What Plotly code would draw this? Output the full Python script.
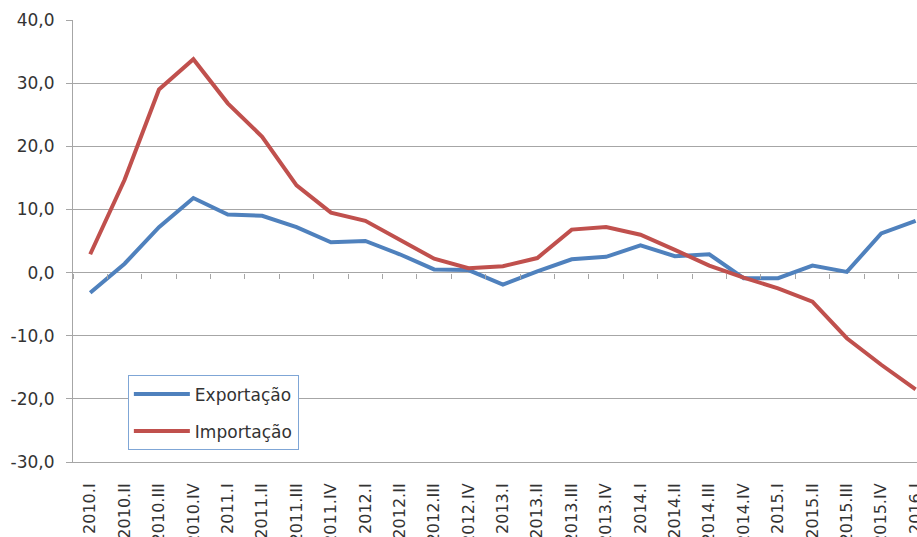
import plotly.graph_objects as go

# Quarterly growth (%), exports vs imports
quarters = [
    "2010.I", "2010.II", "2010.III", "2010.IV",
    "2011.I", "2011.II", "2011.III", "2011.IV",
    "2012.I", "2012.II", "2012.III", "2012.IV",
    "2013.I", "2013.II", "2013.III", "2013.IV",
    "2014.I", "2014.II", "2014.III", "2014.IV",
    "2015.I", "2015.II", "2015.III", "2015.IV",
    "2016.I",
]
exportacao = [
    -3.2, 1.4, 7.2, 11.8,
    9.2, 9.0, 7.2, 4.8,
    5.0, 2.9, 0.5, 0.4,
    -1.9, 0.2, 2.1, 2.5,
    4.3, 2.6, 2.9, -0.9,
    -0.9, 1.1, 0.1, 6.2,
    8.2,
]
importacao = [
    2.9, 14.7, 29.0, 33.8,
    26.8, 21.5, 13.8, 9.5,
    8.2, 5.2, 2.2, 0.7,
    1.0, 2.3, 6.8, 7.2,
    6.0, 3.6, 1.1, -0.8,
    -2.5, -4.6, -10.4, -14.6,
    -18.5,
]
y_ticks = [-30, -20, -10, 0, 10, 20, 30, 40]
y_ticktext = [f"{v:.1f}".replace(".", ",") for v in y_ticks]

BLUE = "#4F81BD"
RED = "#C0504D"
GRID = "#A6A6A6"
TEXT = "#333333"
FONT = "DejaVu Sans"

x_range = [-0.5, 24.04]

fig = go.Figure()
fig.add_trace(go.Scatter(
    x=quarters, y=exportacao, name="Exportação", mode="lines",
    line=dict(color=BLUE, width=4), legendgroup="exp",
    xaxis="x", yaxis="y",
))
fig.add_trace(go.Scatter(
    x=quarters, y=importacao, name="Importação", mode="lines",
    line=dict(color=RED, width=4), legendgroup="imp",
    xaxis="x2", yaxis="y",
))

fig.update_layout(
    width=917, height=537,
    margin=dict(l=73, r=0, t=20, b=75),
    paper_bgcolor="white", plot_bgcolor="white",
    font=dict(family=FONT, size=17, color=TEXT),
    showlegend=True,
    legend=dict(
        x=0.065, y=0.196, xanchor="left", yanchor="top",
        bgcolor="white", bordercolor="#7FA6D6", borderwidth=1,
        font=dict(family=FONT, size=17, color=TEXT),
        tracegroupgap=12, itemwidth=56,
    ),
    xaxis=dict(
        type="category", categoryorder="array", categoryarray=quarters,
        range=x_range, showgrid=False, zeroline=False, automargin=False,
        showline=True, linecolor=GRID, linewidth=1,
        ticks="", tickangle=-90, ticklabelstandoff=14,
        tickfont=dict(family=FONT, size=16, color=TEXT),
    ),
    xaxis2=dict(
        type="category", categoryorder="array", categoryarray=quarters,
        range=x_range, overlaying="x", anchor="free",
        position=30 / 70, side="bottom", automargin=False,
        showgrid=False, zeroline=False, showline=False,
        ticks="outside", ticklen=5, tickcolor=GRID, tickwidth=1,
        tickson="boundaries", showticklabels=False,
    ),
    yaxis=dict(
        range=[-30, 40], tickvals=y_ticks, ticktext=y_ticktext,
        automargin=False,
        showgrid=True, gridcolor=GRID, gridwidth=1,
        zeroline=True, zerolinecolor=GRID, zerolinewidth=1,
        showline=True, linecolor=GRID, linewidth=1,
        ticks="outside", ticklen=6, tickcolor=GRID,
        ticklabelstandoff=8,
        tickfont=dict(family=FONT, size=17, color=TEXT),
    ),
)

fig.write_html("out.html")
